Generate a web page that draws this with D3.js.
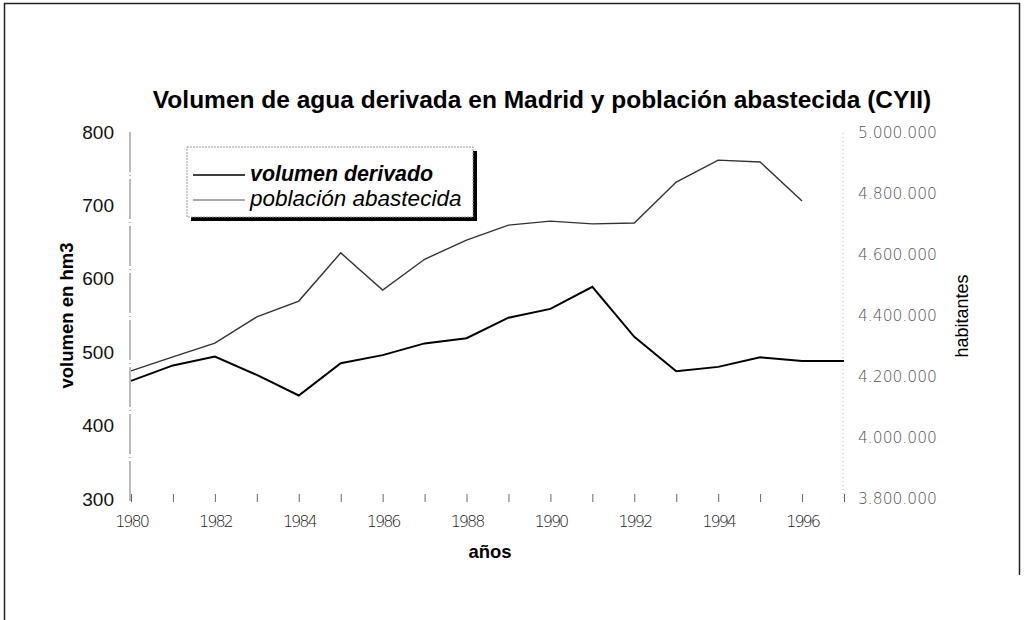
<!DOCTYPE html>
<html>
<head>
<meta charset="utf-8">
<script src="https://cdn.jsdelivr.net/npm/d3@7"></script>
<style>
  body { margin: 0; background: #fff; }
  svg { display: block; }
</style>
</head>
<body>
<svg id="chart" width="1024" height="620"></svg>
<script>
const years = [1980, 1981, 1982, 1983, 1984, 1985, 1986, 1987, 1988, 1989, 1990, 1991, 1992, 1993, 1994, 1995, 1996, 1997];
const volumen = [461, 482, 494, 469, 441, 485, 496, 512, 519, 547, 559, 589, 521, 474, 480, 493, 488, 488];
const poblacionYears = [1980, 1981, 1982, 1983, 1984, 1985, 1986, 1987, 1988, 1989, 1990, 1991, 1992, 1993, 1994, 1995, 1996];
const poblacion = [4220000, 4266000, 4311000, 4397000, 4449000, 4607000, 4485000, 4586000, 4649000, 4698000, 4711000, 4702000, 4705000, 4839000, 4911000, 4905000, 4777000];
const leftTicks = [300, 400, 500, 600, 700, 800];
const rightTicks = [3800000, 4000000, 4200000, 4400000, 4600000, 4800000, 5000000];
const yearLabels = [1980, 1982, 1984, 1986, 1988, 1990, 1992, 1994, 1996];

const svg = d3.select("#chart");

// marco exterior
svg.append("path")
  .attr("d", "M4.5,620 L4.5,3.5 L1019.5,3.5 L1019.5,575")
  .attr("fill", "none")
  .attr("stroke", "#222")
  .attr("stroke-width", 1.5);

const x = d3.scaleLinear().domain([1980, 1997]).range([131, 844]);
const yL = d3.scaleLinear().domain([300, 800]).range([499, 132]);
const yR = d3.scaleLinear().domain([3800000, 5000000]).range([499, 133]);

const fmtES = d => d3.format(",")(d).replace(/,/g, ".");

// titulo
svg.append("text")
  .attr("x", 542)
  .attr("y", 108)
  .attr("text-anchor", "middle")
  .style("font-family", "Liberation Sans, Arial, sans-serif")
  .style("font-weight", "bold")
  .style("font-size", "24.5px")
  .text("Volumen de agua derivada en Madrid y población abastecida (CYII)");

// eje izquierdo
svg.append("line")
  .attr("x1", x(1980) - 1).attr("x2", x(1980) - 1)
  .attr("y1", yL(800)).attr("y2", yL(300) + 2)
  .attr("stroke", "#777")
  .attr("stroke-dasharray", "40,3,1,3");

svg.append("g")
  .attr("transform", "translate(114,0)")
  .call(d3.axisLeft(yL).tickValues(leftTicks).tickSize(0).tickPadding(0))
  .call(g => g.select(".domain").remove())
  .selectAll("text")
  .style("font-family", "Liberation Sans, Arial, sans-serif")
  .style("font-size", "19px")
  .attr("fill", "#111");

// eje derecho
svg.append("line")
  .attr("x1", 843).attr("x2", 843)
  .attr("y1", yR(5000000)).attr("y2", yR(3800000))
  .attr("stroke", "#bbb")
  .attr("stroke-dasharray", "1,3");

svg.append("g")
  .attr("transform", "translate(858,0)")
  .call(d3.axisRight(yR).tickValues(rightTicks).tickFormat(fmtES).tickSize(0).tickPadding(0))
  .call(g => g.select(".domain").remove())
  .selectAll("text")
  .style("font-family", "DejaVu Sans, sans-serif")
  .style("font-weight", "200")
  .style("font-size", "15.5px")
  .attr("fill", "#555");

// eje x
const xAxis = svg.append("g")
  .attr("transform", `translate(0,${yL(300)})`)
  .call(d3.axisBottom(x).tickValues(years).tickSize(0).tickPadding(17)
    .tickFormat(d => yearLabels.includes(d) ? d : ""));
xAxis.select(".domain").remove();
xAxis.selectAll(".tick line")
  .attr("y1", -5).attr("y2", 3)
  .attr("stroke", "#666");
xAxis.selectAll("text")
  .style("font-family", "DejaVu Sans, sans-serif")
  .style("font-weight", "200")
  .style("font-size", "16px")
  .style("letter-spacing", "-2px")
  .attr("fill", "#222");

// titulos de ejes
svg.append("text")
  .attr("transform", `translate(73,${(yL(800) + yL(300)) / 2}) rotate(-90)`)
  .attr("text-anchor", "middle")
  .style("font-family", "Liberation Sans, Arial, sans-serif")
  .style("font-weight", "bold")
  .style("font-size", "18.5px")
  .text("volumen en hm3");

svg.append("text")
  .attr("transform", `translate(968,${(yR(5000000) + yR(3800000)) / 2}) rotate(-90)`)
  .attr("text-anchor", "middle")
  .style("font-family", "Liberation Sans, Arial, sans-serif")
  .style("font-size", "18px")
  .text("habitantes");

svg.append("text")
  .attr("x", 490)
  .attr("y", 558)
  .attr("text-anchor", "middle")
  .style("font-family", "Liberation Sans, Arial, sans-serif")
  .style("font-weight", "bold")
  .style("font-size", "18.5px")
  .text("años");

// lineas
const lineVol = d3.line()
  .x((d, i) => x(years[i]))
  .y(d => yL(d));

const linePob = d3.line()
  .x((d, i) => x(poblacionYears[i]))
  .y(d => yR(d));

svg.append("path")
  .datum(poblacion)
  .attr("fill", "none")
  .attr("stroke", "#333")
  .attr("stroke-width", 1.4)
  .attr("d", linePob);

svg.append("path")
  .datum(volumen)
  .attr("fill", "none")
  .attr("stroke", "#000")
  .attr("stroke-width", 2)
  .attr("d", lineVol);

// leyenda
const legend = svg.append("g").attr("transform", "translate(187,147)");
legend.append("rect")
  .attr("x", 4).attr("y", 4)
  .attr("width", 286).attr("height", 70)
  .attr("fill", "#000");
legend.append("rect")
  .attr("x", 0).attr("y", 0)
  .attr("width", 286).attr("height", 70)
  .attr("fill", "#fff")
  .attr("stroke", "#999")
  .attr("stroke-dasharray", "2,1");

const legendItems = [
  { name: "volumen derivado", weight: "bold", size: 21.4, stroke: "#000", width: 1.6 },
  { name: "población abastecida", weight: "normal", size: 22.5, stroke: "#555", width: 1.2 }
];

legendItems.forEach((item, i) => {
  const ly = 28 + i * 25;
  legend.append("line")
    .attr("x1", 6).attr("x2", 58)
    .attr("y1", ly).attr("y2", ly)
    .attr("stroke", item.stroke)
    .attr("stroke-width", item.width);
  legend.append("text")
    .attr("x", 63)
    .attr("y", ly + 6)
    .style("font-family", "Liberation Sans, Arial, sans-serif")
    .style("font-style", "italic")
    .style("font-weight", item.weight)
    .style("font-size", item.size + "px")
    .text(item.name);
});
</script>
</body>
</html>
